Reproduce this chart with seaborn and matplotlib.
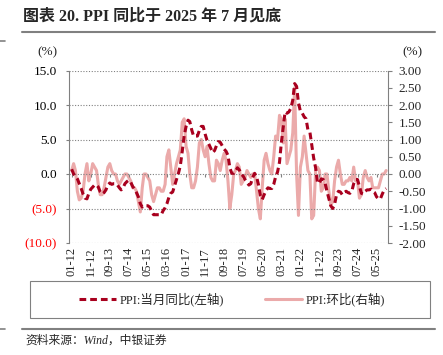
import pandas as pd
import seaborn as sns
import matplotlib.pyplot as plt
from matplotlib.lines import Line2D
from matplotlib.patches import Rectangle
import matplotlib.dates as mdates

# PPI data, monthly 2012-01 .. 2025-10
months = pd.date_range('2012-01-01', '2025-10-01', freq='MS')

ppi_yoy = [
    0.7, 0.0, -0.3, -0.7, -1.4, -2.1, -2.9, -3.5, -3.6, -2.8, -2.2, -1.9,   # 2012
    -1.6, -1.6, -1.9, -2.6, -2.9, -2.7, -2.3, -1.6, -1.3, -1.5, -1.4, -1.4,  # 2013
    -1.6, -2.0, -2.3, -2.0, -1.4, -1.1, -0.9, -1.2, -1.8, -2.2, -2.7, -3.3,  # 2014
    -4.3, -4.8, -4.6, -4.6, -4.6, -4.8, -5.4, -5.9, -5.9, -5.9, -5.9, -5.9,  # 2015
    -5.3, -4.9, -4.3, -3.4, -2.8, -2.6, -1.7, -0.8, 0.1, 1.2, 3.3, 5.5,      # 2016
    6.9, 7.8, 7.6, 6.4, 5.5, 5.5, 5.5, 6.3, 6.9, 6.9, 5.8, 4.9,             # 2017
    4.3, 3.7, 3.1, 3.4, 4.1, 4.7, 4.6, 4.1, 3.6, 3.3, 2.7, 0.9,             # 2018
    0.1, 0.1, 0.4, 0.9, 0.6, 0.0, -0.3, -0.8, -1.2, -1.6, -1.4, -0.5,       # 2019
    0.1, -0.4, -1.5, -3.1, -3.7, -3.0, -2.4, -2.0, -2.1, -2.1, -1.5, -0.4,  # 2020
    0.3, 1.7, 4.4, 6.8, 9.0, 8.8, 9.0, 9.5, 10.7, 13.1, 12.7, 10.3,         # 2021
    9.1, 8.8, 8.3, 8.0, 6.4, 6.1, 4.2, 2.3, 0.9, -1.3, -1.3, -0.7,          # 2022
    -0.8, -1.4, -2.5, -3.6, -4.6, -5.0, -4.4, -3.0, -2.5, -2.6, -3.0, -2.7, # 2023
    -2.5, -2.7, -2.8, -2.5, -1.4, -0.8, -0.8, -1.8, -2.8, -2.9, -2.5, -2.3, # 2024
    -2.3, -2.2, -2.5, -2.7, -3.3, -3.6, -3.6, -2.9, -2.3, -2.1,             # 2025
]

ppi_mom = [
    0.1, 0.3, 0.1, -0.5, -0.75, -0.7, -0.5, 0.0, 0.3, -0.2, 0.0, 0.3,       # 2012
    0.2, 0.1, -0.3, -0.6, -0.6, -0.4, -0.1, 0.2, 0.3, 0.1, 0.0, 0.0,        # 2013
    -0.2, -0.3, -0.2, -0.1, 0.0, 0.0, -0.1, -0.2, -0.4, -0.4, -0.5, -0.8,   # 2014
    -1.1, -0.4, 0.0, 0.0, -0.1, -0.2, -0.6, -0.8, -0.6, -0.4, -0.4, -0.5,   # 2015
    -0.5, -0.3, 0.5, 0.7, 0.2, -0.3, 0.0, 0.3, 0.5, 0.7, 1.5, 1.6,          # 2016
    0.8, 0.6, 0.0, -0.4, -0.4, -0.2, 0.2, 0.9, 1.0, 0.7, 0.5, 0.8,          # 2017
    0.3, -0.1, -0.2, -0.2, 0.4, 0.3, 0.1, 0.4, 0.6, 0.4, -0.2, -1.0,        # 2018
    -0.6, 0.0, 0.1, 0.3, 0.2, -0.3, -0.2, -0.1, 0.1, 0.0, -0.1, 0.0,        # 2019
    0.0, -0.5, -1.0, -1.3, -0.4, 0.4, 0.6, 0.3, 0.1, 0.0, 0.5, 1.1,         # 2020
    1.0, 1.7, 1.6, 0.9, 1.6, 0.3, 0.5, 0.7, 1.2, 2.5, 0.0, -1.2,            # 2021
    0.2, 0.5, 1.1, 0.6, 0.1, 0.0, -1.3, -1.2, 0.1, 0.2, 0.1, -0.5,          # 2022
    -0.4, 0.0, 0.0, -0.5, -0.9, -0.8, -0.2, 0.2, 0.4, 0.0, -0.3, -0.3,      # 2023
    -0.2, -0.2, -0.1, -0.2, 0.2, -0.2, -0.2, -0.7, -0.6, -0.1, 0.1, -0.1,   # 2024
    -0.2, -0.1, -0.4, -0.4, -0.4, -0.4, -0.2, 0.0, 0.0, 0.1,                # 2025
]

x_tick_labels = ['01-12', '11-12', '09-13', '07-14', '05-15', '03-16', '01-17',
                 '11-17', '09-18', '07-19', '05-20', '03-21', '01-22', '11-22',
                 '09-23', '07-24', '05-25']
left_ticks = [-10, -5, 0, 5, 10, 15]
left_tick_labels = ['(10.0)', '(5.0)', '0.0', '5.0', '10.0', '15.0']
right_ticks = [-2.0, -1.5, -1.0, -0.5, 0.0, 0.5, 1.0, 1.5, 2.0, 2.5, 3.0]

title = '图表 20. PPI 同比于 2025 年 7 月见底'
label_yoy = 'PPI:当月同比(左轴)'
label_mom = 'PPI:环比(右轴)'
source = '资料来源：Wind，中银证券'

RED = '#A8001E'
PINK = '#EBAAAA'
GRAY = '#808080'

sns.set_style('white')
plt.rcParams['font.family'] = ['Liberation Serif', 'Noto Sans CJK SC', 'DejaVu Sans']

df = pd.DataFrame({'month': months, 'yoy': ppi_yoy, 'mom': ppi_mom})

W, H = 443, 355
fig = plt.figure(figsize=(W / 100, H / 100), dpi=100)
ax = fig.add_axes([69.3 / W, 1 - 243 / H, (388 - 69.3) / W, (243 - 70.5) / H])
ax2 = ax.twinx()

sns.lineplot(data=df, x='month', y='mom', ax=ax2, color=PINK, lw=2.2,
             solid_joinstyle='round', solid_capstyle='round')
sns.lineplot(data=df, x='month', y='yoy', ax=ax, color=RED, lw=2.2,
             linestyle=(0, (2.2, 1.3)))

# dashed line above the pink one
ax.set_zorder(ax2.get_zorder() + 1)
ax.patch.set_visible(False)

ax.set_xlim(months[0] - pd.Timedelta(days=38), months[-1] + pd.Timedelta(days=30))
ax.set_ylim(-10, 15)
ax2.set_ylim(-2, 3)

tick_pos = months[::10]
ax.set_xticks(tick_pos)
ax.set_xticklabels(x_tick_labels, rotation=90, fontsize=9)
ax.tick_params(axis='x', length=0, pad=3)

ax.set_yticks(left_ticks)
ax.set_yticklabels(left_tick_labels, fontsize=9.5)
for lbl, v in zip(ax.get_yticklabels(), left_ticks):
    lbl.set_color('red' if v < 0 else 'black')
ax.tick_params(axis='y', length=2.5, color=GRAY, pad=6.5, left=True)

ax2.set_yticks(right_ticks)
ax2.yaxis.set_major_formatter(plt.FormatStrFormatter('%.2f'))
ax2.tick_params(axis='y', length=2.7, color=GRAY, pad=5, labelsize=9.5, right=True)

ax.set_xlabel('')
ax.set_ylabel('')
ax2.set_ylabel('')

ax.yaxis.grid(True, ls=(0, (1, 1.5)), color=GRAY, lw=0.8)
ax.xaxis.grid(False)

for a in (ax, ax2):
    for s in a.spines.values():
        s.set_visible(False)
ax.spines['left'].set_visible(True)
ax.spines['left'].set_color(GRAY)
ax.spines['left'].set_linewidth(0.8)
ax2.spines['right'].set_visible(True)
ax2.spines['right'].set_color(GRAY)
ax2.spines['right'].set_linewidth(0.8)

# tick marks along the zero line
sec = ax.secondary_xaxis(0.4)
sec.set_xticks(mdates.date2num(tick_pos))
sec.set_xticklabels([''] * len(tick_pos))
sec.tick_params(axis='x', length=2.5, color=GRAY, direction='out')
for s in sec.spines.values():
    s.set_visible(False)

# unit labels
fig.text(47 / W, 1 - 52 / H, '(%)', ha='center', va='center', fontsize=9.5)
fig.text(412 / W, 1 - 52 / H, '(%)', ha='center', va='center', fontsize=9.5)

# title and rules
fig.text(23 / W, 1 - 16 / H, title, ha='left', va='center', fontsize=11.5,
         fontweight='bold')
fig.add_artist(Line2D([22 / W, 435 / W], [1 - 32 / H] * 2, color=GRAY, lw=1.5))
fig.add_artist(Line2D([0, 5 / W], [1 - 41 / H] * 2, color=GRAY, lw=1.2))
fig.add_artist(Line2D([22 / W, 435 / W], [1 - 329 / H] * 2, color=GRAY, lw=1.5))
fig.add_artist(Line2D([0, 5 / W], [1 - 329 / H] * 2, color=GRAY, lw=1.2))

# legend box
fig.add_artist(Rectangle((30 / W, 1 - 318 / H), 400 / W, 37 / H, fill=False,
                         edgecolor=GRAY, lw=0.8, transform=fig.transFigure))
handles = [Line2D([], [], color=RED, lw=2.2, linestyle=(0, (2.2, 1.3))),
           Line2D([], [], color=PINK, lw=2.2)]
fig.legend(handles, [label_yoy, label_mom], loc='center',
           bbox_to_anchor=(232 / W, 1 - 299.5 / H), ncol=2, frameon=False,
           fontsize=9, handlelength=3.0, handletextpad=0.3, columnspacing=3.2)

fig.text(25 / W, 1 - 341 / H, source, ha='left', va='center', fontsize=8.5,
         style='italic')

fig.savefig('out.png', dpi=100)
